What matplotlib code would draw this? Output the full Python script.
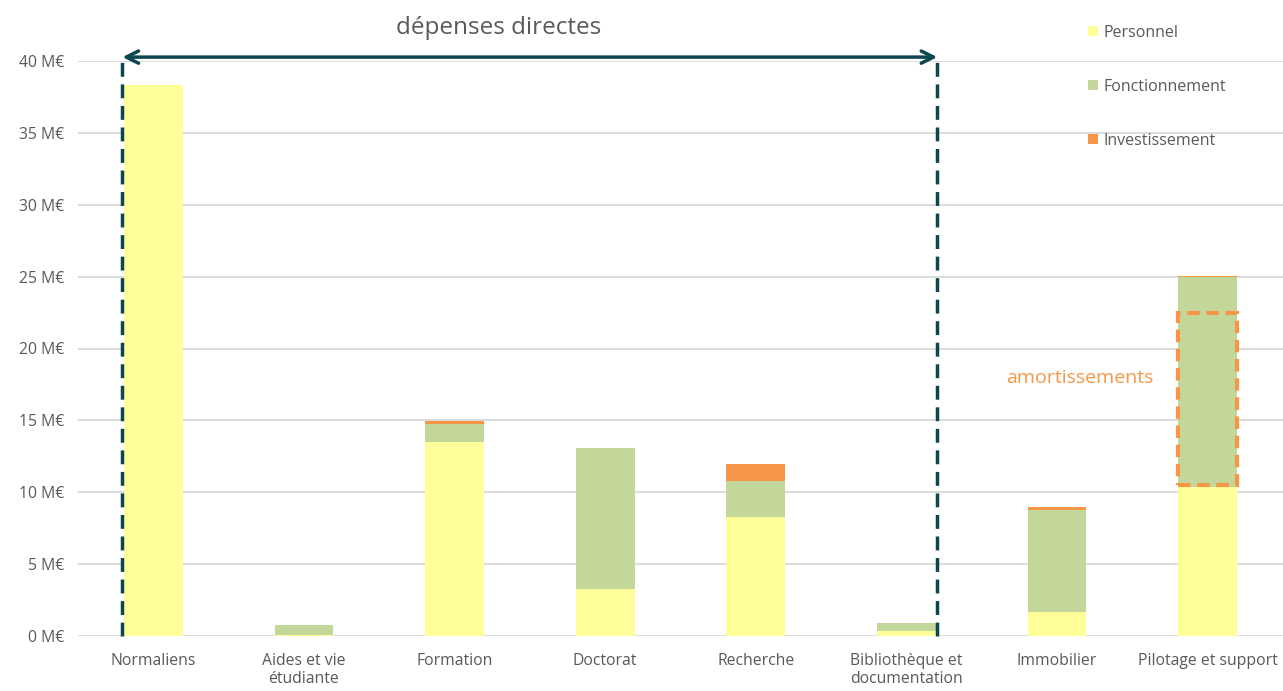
import numpy as np
import matplotlib
matplotlib.use("Agg")
import matplotlib.pyplot as plt
from matplotlib.patches import Rectangle

# --- data (M€) ---------------------------------------------------------------
categories = ["Normaliens", "Aides et vie\nétudiante", "Formation", "Doctorat",
              "Recherche", "Bibliothèque et\ndocumentation", "Immobilier",
              "Pilotage et support"]
personnel      = [38.3, 0.12, 13.5, 3.3, 8.3, 0.35, 1.7, 10.4]
fonctionnement = [0.0, 0.65, 1.25, 9.8, 2.5, 0.55, 7.1, 14.55]
investissement = [0.0, 0.0, 0.2, 0.0, 1.2, 0.0, 0.2, 0.1]
series_names = ["Personnel", "Fonctionnement", "Investissement"]
yticks = [0, 5, 10, 15, 20, 25, 30, 35, 40]
amort_range = (10.5, 22.5)   # depreciation share in Pilotage et support

COLORS = ["#ffff99", "#c4d79b", "#f79646"]
TEAL = "#0e4650"
GREY = "#595959"
plt.rcParams["font.family"] = ["Open Sans", "DejaVu Sans"]

W, H = 1283, 691
fig = plt.figure(figsize=(W / 100, H / 100), dpi=100)
ax = fig.add_axes([78 / W, 1 - 636.3 / H, 1 - 78 / W, (636.3 - 60.7) / H])

x = np.arange(len(categories))
bw = 0.39
p = np.array(personnel)
f = np.array(fonctionnement)
i = np.array(investissement)
hs = [ax.bar(x, p, bw, color=COLORS[0], label=series_names[0], zorder=3),
      ax.bar(x, f, bw, bottom=p, color=COLORS[1], label=series_names[1], zorder=3),
      ax.bar(x, i, bw, bottom=p + f, color=COLORS[2], label=series_names[2], zorder=3)]

ax.set_xlim(-0.5, len(categories) - 0.5)
ax.set_ylim(0, 40)
ax.set_yticks(yticks)
ax.set_yticklabels([f"{v} M€" for v in yticks])
ax.set_xticks(x)
ax.set_xticklabels(categories, linespacing=1.2)
ax.tick_params(axis="both", length=0, labelsize=11.3, labelcolor=GREY)
ax.tick_params(axis="y", pad=10)
ax.tick_params(axis="x", pad=12)
ax.grid(axis="y", color="#d9d9d9", lw=1.3, zorder=0)
for s in ax.spines.values():
    s.set_visible(False)

# "dépenses directes" bracket
xl, xr = -0.205, 5.205
ytop = 40.25
ax.annotate("", xy=(xl, ytop), xytext=(xr, ytop),
            arrowprops=dict(arrowstyle="<->", color=TEAL, lw=2.5,
                            mutation_scale=22, shrinkA=0, shrinkB=0),
            annotation_clip=False, zorder=5)
for xv in (xl, xr):
    ax.plot([xv, xv], [0, ytop], color=TEAL, lw=2.5, ls=(0, (4, 2.2)),
            clip_on=False, zorder=5)
ax.text(2.29, 42.3, "dépenses directes", ha="center", va="center",
        fontsize=17.5, color=GREY, clip_on=False)

# amortissements box
ax.add_patch(Rectangle((x[-1] - bw / 2, amort_range[0]), bw,
                       amort_range[1] - amort_range[0], fill=False,
                       ec=COLORS[2], lw=3, ls=(0, (3, 1.6)), zorder=6))
ax.text(6.15, 17.95, "amortissements", ha="center", va="center",
        fontsize=14, color=COLORS[2])

leg = ax.legend(handles=hs, loc="upper left", bbox_to_anchor=(1088 / W, 1 - 25 / H),
                bbox_transform=fig.transFigure, frameon=False, fontsize=11.5,
                handlelength=0.6, handleheight=0.6, handletextpad=0.35,
                labelspacing=2.38, borderpad=0, borderaxespad=0)
for t in leg.get_texts():
    t.set_color(GREY)

fig.savefig("out.png", dpi=100)
